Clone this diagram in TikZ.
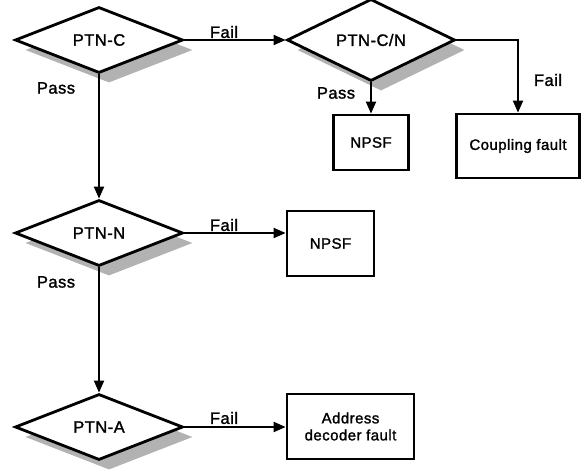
\documentclass[tikz,border=0pt]{standalone}
\usepackage{fontspec}
\setmainfont{Liberation Sans}
\newfontfamily\medfont[FakeBold=1.5,LetterSpace=3]{Liberation Sans}
\usetikzlibrary{shapes.geometric,shadows,arrows.meta,calc}
\begin{document}
\begin{tikzpicture}[x=1pt,y=-1pt,
  test/.style={diamond,draw,line width=2.8pt,fill=white,inner sep=0pt,
    minimum width=168pt,minimum height=66pt,
    font=\medfont\fontsize{16.5}{18}\selectfont,
    drop shadow={shadow xshift=10pt,shadow yshift=-10pt,fill=gray!60,opacity=1}},
  result/.style={rectangle,draw,line width=2.8pt,fill=white,inner sep=2pt,
    align=center,font=\medfont\fontsize{15}{17}\selectfont},
  conn/.style={line width=2pt,-{Triangle[length=12pt,width=10pt]}},
  lbl/.style={font=\medfont\fontsize{16.5}{18}\selectfont,inner sep=0pt}]
\useasboundingbox (0,0) rectangle (584,471);
\node[test] (ptnc) at (99,40) {PTN-C};
\node[test] (ptncn) at (371,40) {PTN-C/N};
\node[test] (ptnn) at (99,233) {PTN-N};
\node[test] (ptna) at (99,427) {PTN-A};
\node[result,minimum width=75pt,minimum height=55pt] (npsfa) at (371,142.5) {NPSF};
\node[result,minimum width=123pt,minimum height=64pt] (coup) at (518,146) {Coupling fault};
\node[result,minimum width=87pt,minimum height=65pt] (npsfb) at (330.5,243.5) {NPSF};
\node[result,minimum width=127pt,minimum height=65pt] (addr) at (350.5,426.5) {Address\\decoder fault};
\draw[conn] (ptnc.east) -- (ptncn.west);
\draw[conn] (ptnc.south) -- (ptnn.north);
\draw[conn] (ptncn.south) -- (npsfa.north);
\draw[conn] (ptncn.east) -| (coup.north);
\draw[conn] (ptnn.east) -- (npsfb.west |- ptnn.east);
\draw[conn] (ptnn.south) -- (ptna.north);
\draw[conn] (ptna.east) -- (addr.west |- ptna.east);
\node[lbl] (f1) at (224,32) {Fail};
\node[lbl] (p1) at (56,88) {Pass};
\node[lbl] (p2) at (336,93) {Pass};
\node[lbl] (f2) at (548,80) {Fail};
\node[lbl] (f3) at (224,225) {Fail};
\node[lbl] (p3) at (56,282) {Pass};
\node[lbl] (f4) at (224,418) {Fail};
\end{tikzpicture}
\end{document}
